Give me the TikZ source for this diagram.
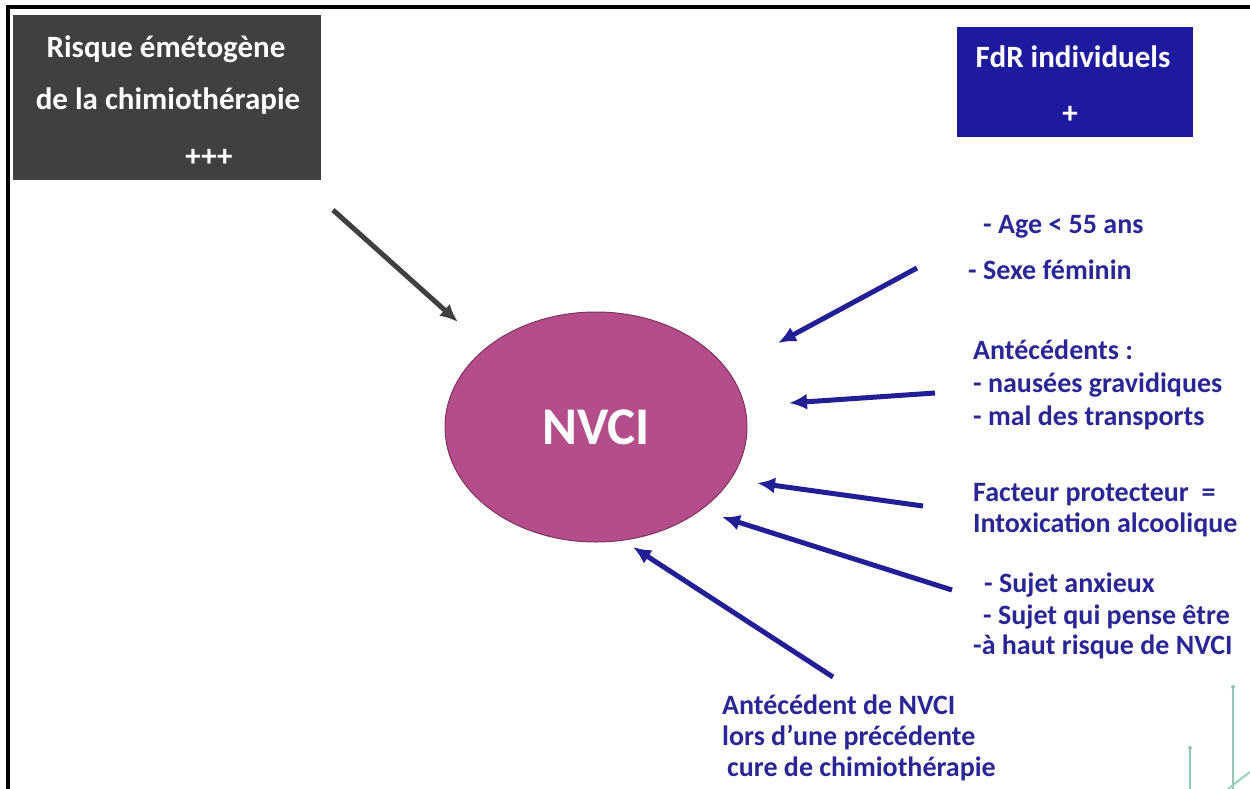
\documentclass[tikz,border=0pt]{standalone}
\usepackage{fontspec}
\setmainfont{Carlito}
\usetikzlibrary{shapes.geometric,arrows.meta}
\definecolor{riskgray}{RGB}{64,64,64}
\definecolor{fdrblue}{RGB}{30,26,158}
\definecolor{txtblue}{RGB}{42,38,150}
\definecolor{arrblue}{RGB}{34,30,150}
\definecolor{nvcifill}{RGB}{180,78,138}
\definecolor{nvciedge}{RGB}{130,48,96}
\definecolor{tealdeco}{RGB}{150,196,186}
\definecolor{greendeco}{RGB}{150,214,186}
\begin{document}
\begin{tikzpicture}[x=1pt,y=-1pt,
  boxtext/.style={text=white,font=\fontsize{31}{36}\selectfont\bfseries,inner sep=0pt,anchor=base},
  sidetext/.style={text=txtblue,font=\fontsize{28}{32}\selectfont\bfseries,inner sep=0pt,anchor=base west},
  bluearrow/.style={draw=arrblue,line width=5pt,-{Latex[length=18pt,width=16pt]}},
  grayarrow/.style={draw=riskgray,line width=5pt,-{Latex[length=18pt,width=16pt]}},
  deco/.style={draw=tealdeco,line width=1.6pt}]
\useasboundingbox (0,0) rectangle (1250,789);
\fill[white] (0,0) rectangle (1250,789);
% frame
\draw[line width=4pt,miter limit=10] (8,789) -- (8,7) -- (1250,7);
% boxes
\node[fill=riskgray,minimum width=308pt,minimum height=165pt,inner sep=0pt] (risk) at (167,97.5) {};
\node[boxtext] (r1) at (166,58) {Risque émétogène};
\node[boxtext] (r2) at (168,110) {de la chimiothérapie};
\node[boxtext] (r3) at (209,167) {+++};
\node[fill=fdrblue,minimum width=236pt,minimum height=110pt,inner sep=0pt] (fdr) at (1075,82) {};
\node[boxtext] (f1) at (1073,68) {FdR individuels};
\node[boxtext] (f2) at (1070,124) {+};
% ellipse
\node[ellipse,fill=nvcifill,draw=nvciedge,line width=1pt,minimum width=302pt,minimum height=230pt,inner sep=0pt,
      text=white,font=\fontsize{53}{60}\selectfont\bfseries] (nvci) at (596,427) {NVCI};
% side texts
\node[sidetext] (t1) at (983,233) {- Age < 55 ans};
\node[sidetext] (t2) at (968,279) {- Sexe féminin};
\node[sidetext] (t3) at (973,359) {Antécédents :};
\node[sidetext] (t4) at (973,392) {- nausées gravidiques};
\node[sidetext] (t5) at (973,425) {- mal des transports};
\node[sidetext] (t6) at (973,501) {Facteur protecteur\ \ =};
\node[sidetext] (t7) at (973,532) {Intoxication alcoolique};
\node[sidetext] (t8) at (984,592) {- Sujet anxieux};
\node[sidetext] (t9) at (983,624) {- Sujet qui pense être};
\node[sidetext] (t10) at (973,654) {-à haut risque de NVCI};
\node[sidetext] (b1) at (722,714) {Antécédent de NVCI};
\node[sidetext] (b2) at (722,745) {lors d’une précédente};
\node[sidetext] (b3) at (727,776) {cure de chimiothérapie};
% arrow end points
\coordinate (g0) at (333,210); \coordinate (g1) at (458,322);
\coordinate (a1s) at (917,268); \coordinate (a1e) at (778,343);
\coordinate (a2s) at (935,393); \coordinate (a2e) at (789,403);
\coordinate (a3s) at (923,506); \coordinate (a3e) at (757,483);
\coordinate (a4s) at (952,590); \coordinate (a4e) at (722,517);
\coordinate (a5s) at (833,677); \coordinate (a5e) at (633,547);
\draw[grayarrow] (g0) -- (g1);
\draw[bluearrow] (a1s) -- (a1e);
\draw[bluearrow] (a2s) -- (a2e);
\draw[bluearrow] (a3s) -- (a3e);
\draw[bluearrow] (a4s) -- (a4e);
\draw[bluearrow] (a5s) -- (a5e);
% decorations bottom right
\coordinate (d1) at (1233,687); \coordinate (d1b) at (1233,789);
\coordinate (d2) at (1190,748); \coordinate (d2b) at (1190,789);
\draw[deco] (d1) -- (d1b);
\draw[deco] (d2) -- (d2b);
\fill[tealdeco] (d1) circle (2pt);
\fill[tealdeco] (d2) circle (2pt);
\coordinate (c1) at (1228,789); \coordinate (c2) at (1250,772);
\draw[draw=greendeco,line width=2pt] (c1) .. controls (1238,781) .. (c2);
\end{tikzpicture}
\end{document}
